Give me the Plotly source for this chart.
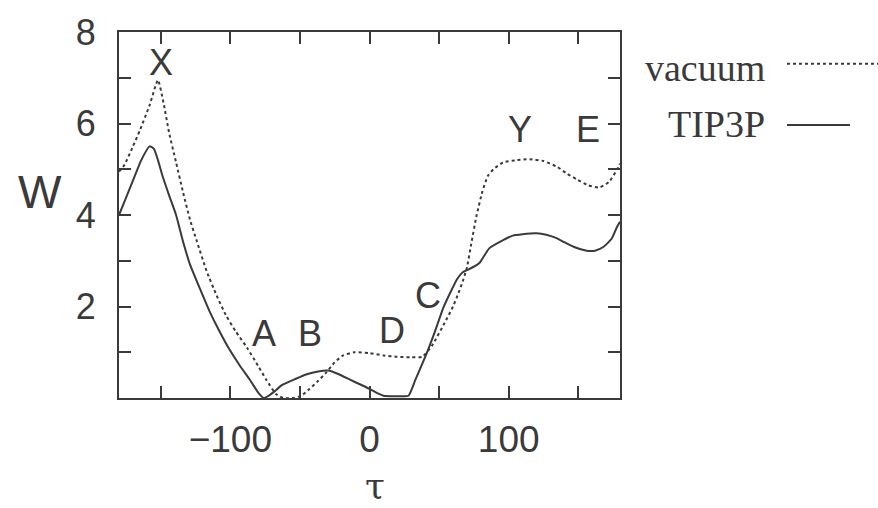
import plotly.graph_objects as go

# ---- data ----
vac_tau = [-180, -176, -170, -165, -158, -152, -148, -144, -139, -134, -129, -124, -117, -110,
           -103, -96, -88, -80, -74, -67, -62, -55, -49, -43, -37, -31, -25, -19, -11, 0, 10, 20,
           30, 38, 45, 55, 60, 64, 67, 70, 73, 77, 81, 85, 89, 96, 106, 115, 125, 135, 142,
           149, 157, 165, 172, 178, 180]
vac_W = [4.95, 5.1, 5.5, 5.85, 6.4, 6.95, 6.45, 5.8, 5.15, 4.5, 3.9, 3.42, 2.77, 2.25,
         1.8, 1.45, 1.1, 0.7, 0.39, 0.08, 0.0, 0.0, 0.05, 0.2, 0.37, 0.56, 0.78, 0.93, 1.0, 0.98, 0.93, 0.9,
         0.89, 0.9, 1.15, 1.7, 2.0, 2.3, 2.55, 2.85, 3.35, 4.0, 4.5, 4.85, 5.0, 5.15, 5.2, 5.22, 5.18, 5.05, 4.9,
         4.78, 4.65, 4.6, 4.72, 5.0, 5.12]

tip_tau = [-180, -176, -170, -164, -158, -155, -152, -149, -144, -139, -134, -129, -122, -115, -108,
           -101, -93, -86, -80, -76, -72, -68, -63, -53, -45, -37, -30, -22, -14, -7, 0,
           6, 10, 20, 28, 33, 41, 47, 53, 58, 63, 67, 72, 79, 86, 96, 103, 110, 120, 127,
           134, 139, 147, 156, 162, 168, 174, 178, 180]
tip_W = [4.0, 4.3, 4.75, 5.2, 5.5, 5.45, 5.2, 4.88, 4.43, 4.0, 3.42, 2.92, 2.4, 1.9, 1.47,
         1.08, 0.7, 0.4, 0.12, 0.0, 0.06, 0.15, 0.28, 0.42, 0.52, 0.58, 0.6, 0.52, 0.4, 0.3, 0.2,
         0.1, 0.05, 0.04, 0.05, 0.4, 0.97, 1.45, 1.97, 2.3, 2.6, 2.75, 2.82, 2.95, 3.27, 3.45, 3.55, 3.58, 3.6, 3.57,
         3.5, 3.42, 3.3, 3.22, 3.22, 3.3, 3.48, 3.75, 3.85]

x_ticks = [-150, -100, -50, 0, 50, 100, 150]
x_ticktext = ["", "\u2212100", "", "0", "", "100", ""]
y_ticks = [1, 2, 3, 4, 5, 6, 7, 8]
y_ticktext = ["", "2", "", "4", "", "6", "", "8"]

point_labels = ["X", "A", "B", "D", "C", "Y", "E"]
label_tau = [-150, -75.5, -43, 16.5, 42, 108, 157]
label_W = [7.33, 1.41, 1.41, 1.47, 2.23, 5.86, 5.86]

legend_names = ["vacuum", "TIP3P"]

INK = "#3a3a3a"

fig = go.Figure()
fig.add_trace(go.Scatter(x=vac_tau, y=vac_W, mode="lines", name=legend_names[0],
                         line=dict(color=INK, width=2, dash="3px,3px", shape="spline", smoothing=0.5)))
fig.add_trace(go.Scatter(x=tip_tau, y=tip_W, mode="lines", name=legend_names[1],
                         line=dict(color=INK, width=2, shape="spline", smoothing=0.5)))

for t, a, b in zip(point_labels, label_tau, label_W):
    fig.add_annotation(x=a, y=b, text=t, showarrow=False, xref="x", yref="y",
                       xanchor="center", yanchor="middle",
                       font=dict(family="Liberation Sans, Arial", size=36, color=INK))

# axis titles
fig.add_annotation(x=-0.1577, y=0.562, xref="paper", yref="paper", text="W", showarrow=False,
                   xanchor="center", yanchor="middle",
                   font=dict(family="Liberation Sans, Arial", size=46, color=INK))
fig.add_annotation(x=0.511, y=-0.238, xref="paper", yref="paper", text="\u03c4", showarrow=False,
                   xanchor="center", yanchor="middle",
                   font=dict(family="DejaVu Serif, Liberation Serif", size=36, color=INK))

# legend (text left of sample line)
leg_y = [0.9027, 0.7486]
leg_line_y = [0.9135, 0.7459]
leg_x1 = [1.515, 1.459]
leg_dash = ["3px,3px", "solid"]
for name, ty, ly, x1, d in zip(legend_names, leg_y, leg_line_y, leg_x1, leg_dash):
    fig.add_annotation(x=1.2934, y=ty, xref="paper", yref="paper", text=name, showarrow=False,
                       xanchor="right", yanchor="middle",
                       font=dict(family="Liberation Serif, Times New Roman", size=38, color=INK))
    fig.add_shape(type="line", xref="paper", yref="paper", x0=1.3333, x1=x1, y0=ly, y1=ly,
                  line=dict(color=INK, width=2, dash=d))

fig.update_xaxes(range=[-180, 180], tickvals=x_ticks, ticktext=x_ticktext, ticks="inside",
                 ticklen=12, tickwidth=2, tickcolor=INK, showline=True, linecolor=INK, linewidth=2,
                 mirror="allticks", showgrid=False, zeroline=False, ticklabelstandoff=8,
                 tickfont=dict(family="Liberation Sans, Arial", size=37, color=INK))
fig.update_yaxes(range=[0, 8], tickvals=y_ticks, ticktext=y_ticktext, ticks="inside",
                 ticklen=12, tickwidth=2, tickcolor=INK, showline=True, linecolor=INK, linewidth=2,
                 mirror="allticks", showgrid=False, zeroline=False, ticklabelstandoff=14,
                 tickfont=dict(family="Liberation Sans, Arial", size=36, color=INK))

fig.update_layout(width=878, height=508, margin=dict(l=119, r=258, t=28, b=110),
                  plot_bgcolor="white", paper_bgcolor="white", showlegend=False)

fig.write_html("out.html")
